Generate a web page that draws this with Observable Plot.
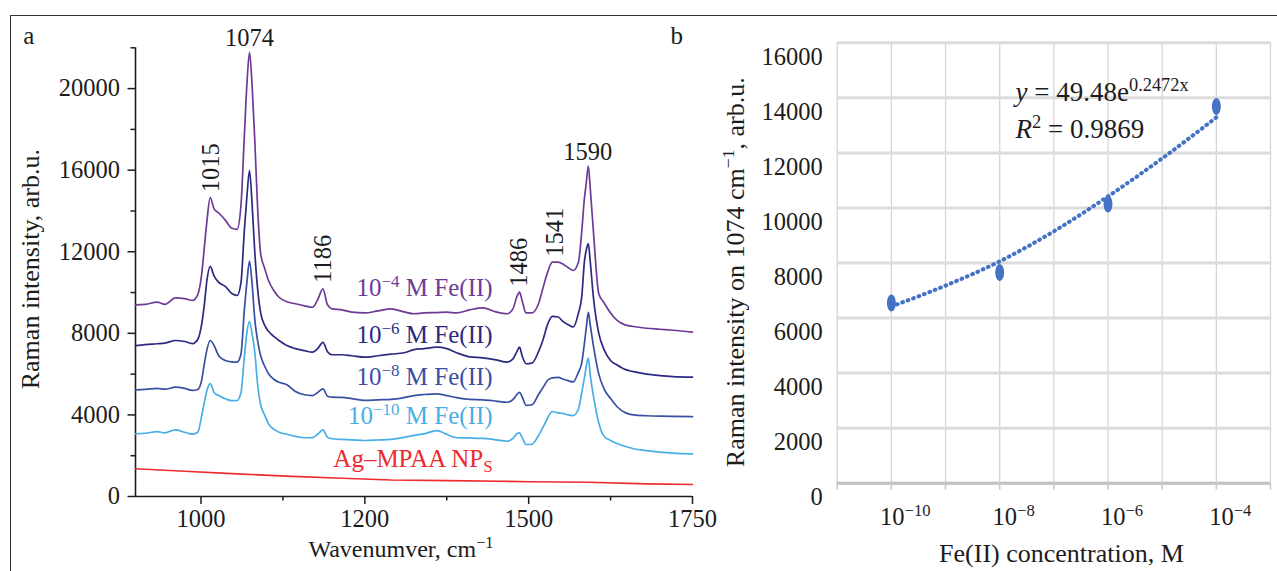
<!DOCTYPE html>
<html><head><meta charset="utf-8">
<script src="https://cdn.jsdelivr.net/npm/d3@7"></script>
<script src="https://cdn.jsdelivr.net/npm/@observablehq/plot@0.6"></script>
<style>
html,body{margin:0;padding:0;background:#fff;}
#wrap{position:relative;width:1277px;height:571px;overflow:hidden;background:#fff;}
#frame{position:absolute;left:10px;top:15px;right:-5px;bottom:-5px;border-top:1.5px solid #333;border-left:1.5px solid #333;}
</style></head><body><div id="wrap"><div id="frame"></div></div>
<script>
// ---------- Panel a data ----------
const wavenumber = [900,915,933,945,961,975,987,995,1001,1005,1009,1014,1020,1027,1037,1047,1055,1061,1066,1070,1074,1078,1082,1086,1091,1097,1103,1111,1119,1131,1144,1158,1170,1178,1186,1193,1200,1215,1230,1250,1270,1290,1310,1325,1340,1360,1375,1390,1410,1430,1450,1467,1476,1482,1486,1490,1496,1505,1515,1522,1529,1536,1545,1553,1560,1568,1576,1581,1585,1588,1591,1594,1599,1607,1615,1625,1635,1648,1660,1680,1700,1720,1750];
const intensityFe4 = [9400,9420,9530,9420,9740,9700,9610,9900,10900,12200,13500,14650,14100,13900,13550,13150,13100,14300,17600,20200,21780,20100,17500,14400,11900,11200,10590,10100,9770,9550,9450,9350,9280,9650,10180,9400,9200,9150,9040,9000,9100,9200,9050,8960,9000,9020,9040,9000,9150,9250,9050,8960,9200,9800,10020,9600,9000,9000,9450,10250,11000,11490,11490,11380,11230,11080,11500,13000,14600,15400,16200,15100,12900,9940,9500,9000,8630,8400,8335,8250,8200,8150,8055];
const intensityFe6 = [7400,7450,7490,7520,7650,7600,7500,7700,8450,9400,10600,11280,10800,10500,10300,9950,9855,10500,13000,14700,15980,14300,12000,10300,9000,8400,8100,7850,7650,7400,7250,7150,7080,7250,7560,7100,6950,6950,6900,6830,6900,6980,7050,7200,7250,7320,7250,7050,6850,6800,6700,6590,6750,7100,7320,6900,6510,6540,7100,7700,8450,8830,8800,8560,8430,8310,9000,9800,11500,12100,12400,11500,9700,8000,7200,6670,6450,6220,6120,6000,5930,5880,5850];
const intensityFe8 = [5230,5250,5300,5260,5360,5300,5200,5250,5700,6500,7200,7650,7400,6900,6670,6600,6585,7000,9100,10500,11540,10400,8700,7700,6900,6400,6020,5750,5600,5480,5150,4990,4950,5100,5280,4920,4870,4860,4800,4710,4740,4760,4850,4950,5000,5035,4950,4850,4760,4740,4680,4620,4750,5000,5110,4900,4470,4500,5000,5350,5700,5820,5840,5750,5680,5620,6100,6550,7500,8300,9030,8400,7350,6000,5280,4800,4400,4100,4000,3960,3940,3930,3920];
const intensityFe10 = [3074,3100,3180,3120,3270,3150,3060,3150,3950,4600,5200,5530,5100,4950,4790,4700,4707,5100,6800,8050,8580,7950,7100,5600,4500,4000,3564,3300,3150,3050,2950,2880,2890,3050,3270,2900,2830,2800,2780,2746,2770,2800,2900,3000,3074,3230,3050,2880,2870,2850,2780,2710,2850,3080,3120,2900,2550,2560,2990,3400,3850,4167,4100,4070,4000,3970,4300,5100,5800,6400,6780,5950,4900,3600,2950,2750,2600,2450,2339,2250,2180,2130,2094];
const agWavenumber = [900,975,1055,1130,1205,1290,1375,1457,1503,1591,1680,1750];
const agIntensity = [1360,1240,1110,1000,910,810,780,750,720,700,620,588];
const seriesLabels = ["10^{−4} M Fe(II)","10^{−6} M Fe(II)","10^{−8} M Fe(II)","10^{−10} M Fe(II)","Ag–MPAA NP_{S}"];
const peakWavenumbers = [1015,1074,1186,1486,1541,1590];
const verticalPeaks = [1015,1186,1486,1541];
const yTicksA = [0,4000,8000,12000,16000,20000];
const yMinorA = [2000,6000,10000,14000,18000,22000];
const xTicksA = [1000,1250,1500,1750];
const xTickLabelsA = ["1000","1200","1500","1750"];
const xMinorA = [1125,1375,1625];

// ---------- Panel b data ----------
const concentration = [1e-10,1e-8,1e-6,1e-4];
const intensity1074 = [6547,7655,10143,13686];
const trendConcentration = [1e-10,1e-9,1e-8,1e-7,1e-6,1e-5,1e-4];
const trendIntensity = [6420,7180,8060,9150,10420,11800,13290];
const yTicksB = [0,2000,4000,6000,8000,10000,12000,14000,16000];
const xDecadesB = [1e-11,1e-10,1e-9,1e-8,1e-7,1e-6,1e-5,1e-4,1e-3];
const xLabelledB = [1e-10,1e-8,1e-6,1e-4];
const xLabelsB = ["10^{−10}","10^{−8}","10^{−6}","10^{−4}"];
const equationLines = ["*y* = 49.48e^{0.2472x}","*R*^{2} = 0.9869"];

// ---------- styles ----------
const seriesColors = ["#6e3a97","#2c2a80","#3a4fa3","#48aee6","#ee2a2e"];
const trendColor = "#4472c4";
const svgStyle = "font-family:'Liberation Serif','Times New Roman',serif;font-size:24px;background:transparent;overflow:visible;max-width:none;position:absolute;left:0;top:0;color:#1c1c1c;";

// ---------- build tables ----------
const seriesValues = [intensityFe4, intensityFe6, intensityFe8, intensityFe10];
const lineData = seriesValues.map(vals => wavenumber.map((w, i) => ({w, v: vals[i]})));
const agData = agWavenumber.map((w, i) => ({w, v: agIntensity[i]}));
const allSeries = [...lineData, agData];
function interp(data, w) {
  for (let i = 1; i < data.length; i++) {
    if (data[i].w >= w) { const a = data[i-1], b = data[i]; return a.v + (b.v - a.v) * (w - a.w) / (b.w - a.w); }
  }
  return data[data.length-1].v;
}
const labelW = 1445;
const labelData = allSeries.map((data, i) => ({w: labelW, v: interp(data, 1410), label: seriesLabels[i], color: seriesColors[i]}));
const purple = lineData[0];
const peakData = peakWavenumbers.map(w => ({w, v: d3.max(purple.filter(d => Math.abs(d.w - w) <= 6), d => d.v), label: String(w)}));

const pointData = concentration.map((c, i) => ({c, v: intensity1074[i]}));
const trendData = trendConcentration.map((c, i) => ({c, v: trendIntensity[i]}));

const ellipse = {
  draw(ctx, size) {
    const r = Math.sqrt(size / Math.PI), rx = r * 0.52, ry = r, k = 0.5523;
    ctx.moveTo(rx, 0);
    ctx.bezierCurveTo(rx, k*ry, k*rx, ry, 0, ry);
    ctx.bezierCurveTo(-k*rx, ry, -rx, k*ry, -rx, 0);
    ctx.bezierCurveTo(-rx, -k*ry, -k*rx, -ry, 0, -ry);
    ctx.bezierCurveTo(k*rx, -ry, rx, -k*ry, rx, 0);
    ctx.closePath();
  }
};

const plotA = Plot.plot({
  width: 1277, height: 571,
  marginLeft: 135, marginRight: 585, marginTop: 47.3, marginBottom: 75,
  x: {domain: [900, 1750]},
  y: {domain: [0, 22000]},
  style: svgStyle,
  marks: [
    Plot.ruleX([900], {y1: 0, y2: 22000, strokeWidth: 1.6}),
    Plot.ruleY([0], {x1: 900, x2: 1750, strokeWidth: 1.6}),
    Plot.axisY({ticks: yMinorA, tickSize: 4.5, tickFormat: () => "", strokeWidth: 1.5, label: null}),
    Plot.axisY({ticks: yTicksA, tickSize: 7.5, tickPadding: 8, fontSize: 24.5, strokeWidth: 1.5, label: null, tickFormat: d => String(d)}),
    Plot.axisX({ticks: xMinorA, tickSize: 4.5, tickFormat: () => "", strokeWidth: 1.5, label: null}),
    Plot.axisX({ticks: xTicksA, tickSize: 8, tickPadding: 5, fontSize: 24.5, strokeWidth: 1.5, label: null, tickFormat: d => xTickLabelsA[xTicksA.indexOf(d)]}),
    Plot.line(agData, {x: "w", y: "v", stroke: seriesColors[4], strokeWidth: 1.6}),
    ...lineData.map((data, i) => Plot.line(data, {x: "w", y: "v", stroke: seriesColors[i], strokeWidth: 1.7, curve: "monotone-x"})).reverse(),
    ...labelData.map(d => Plot.text([d], {x: "w", y: "v", text: "label", fill: d.color, textAnchor: "end", lineAnchor: "bottom", dy: -14, fontSize: 25})),
    Plot.text(peakData.filter(d => !verticalPeaks.includes(d.w)), {x: "w", y: "v", text: "label", dy: -6, lineAnchor: "bottom", fontSize: 24.5}),
    Plot.text(peakData.filter(d => verticalPeaks.includes(d.w)), {x: "w", y: "v", text: "label", dy: -30, rotate: -90, fontSize: 24.5}),
    Plot.text(["Raman intensity, arb.u."], {frameAnchor: "left", textAnchor: "middle", lineAnchor: "middle", dx: -105.3, dy: -3, rotate: -90, fontSize: 26}),
    Plot.text(["Wavenumver, cm^{−1}"], {frameAnchor: "bottom", textAnchor: "middle", dx: -13, dy: 60, lineAnchor: "bottom", fontSize: 24}),
    Plot.text(["a"], {frameAnchor: "top-left", dx: -112.3, dy: -4.3, textAnchor: "start", lineAnchor: "bottom", fontSize: 25})
  ]
});

const plotB = Plot.plot({
  width: 1277, height: 571,
  marginLeft: 836.7, marginRight: 7, marginTop: 42.3, marginBottom: 88.3,
  x: {type: "log", domain: [1e-11, 1e-3]},
  y: {domain: [0, 16000]},
  style: svgStyle,
  marks: [
    Plot.gridX(xDecadesB, {stroke: "#d6d6d6", strokeOpacity: 1, strokeWidth: 1.3}),
    Plot.gridY(yTicksB, {stroke: "#dcdcdc", strokeOpacity: 1, strokeWidth: 3}),
    Plot.ruleY([0], {stroke: "#c2c2c2", strokeWidth: 3}),
    Plot.axisX({ticks: xDecadesB, tickSize: 7, tickFormat: () => "", stroke: "#c8c8c8", strokeWidth: 1.5, label: null}),
    Plot.axisX({ticks: xLabelledB, tickSize: 0, tickPadding: 24, dx: 14, fontSize: 24.5, label: null, tickFormat: d => xLabelsB[xLabelledB.indexOf(d)]}),
    Plot.axisY({ticks: yTicksB, tickSize: 0, tickPadding: 14.5, dy: 14, fontSize: 24.5, label: null, tickFormat: d => String(d)}),
    Plot.line(trendData, {x: "c", y: "v", stroke: trendColor, strokeWidth: 4, strokeDasharray: "0.8 5", strokeLinecap: "round", curve: "monotone-x"}),
    Plot.dot(pointData, {x: "c", y: "v", r: 8.5, symbol: ellipse, fill: trendColor}),
    Plot.text([equationLines[0]], {frameAnchor: "top-left", dx: 178.3, dy: 57.7, textAnchor: "start", lineAnchor: "bottom", fontSize: 27}),
    Plot.text([equationLines[1]], {frameAnchor: "top-left", dx: 178.3, dy: 94.7, textAnchor: "start", lineAnchor: "bottom", fontSize: 27}),
    Plot.text(["Raman intensity on 1074 cm^{−1}, arb.u."], {frameAnchor: "left", textAnchor: "middle", lineAnchor: "middle", dx: -102, dy: 9.2, rotate: -90, fontSize: 26}),
    Plot.text(["Fe(II) concentration, M"], {frameAnchor: "bottom", textAnchor: "middle", dx: 7.6, dy: 78.3, lineAnchor: "bottom", fontSize: 26}),
    Plot.text(["b"], {frameAnchor: "top-left", dx: -166.7, dy: 0.7, textAnchor: "start", lineAnchor: "bottom", fontSize: 25})
  ]
});

const wrap = document.getElementById("wrap");
wrap.append(plotA, plotB);

function richify(svg) {
  const NS = "http://www.w3.org/2000/svg";
  svg.querySelectorAll("text").forEach(t => {
    if (t.children.length) return;
    const s = t.textContent;
    if (!/[\^_*]/.test(s)) return;
    const fs = parseFloat(getComputedStyle(t).fontSize) || 24;
    const re = /\^\{([^}]*)\}|_\{([^}]*)\}|\*([^*]*)\*|([^^_*]+)/g;
    t.textContent = "";
    let shift = 0, m;
    while ((m = re.exec(s))) {
      const ts = document.createElementNS(NS, "tspan");
      let target = 0, size = null, italic = false, text;
      if (m[1] !== undefined) { text = m[1]; target = -0.36 * fs; size = 0.68 * fs; }
      else if (m[2] !== undefined) { text = m[2]; target = 0.2 * fs; size = 0.68 * fs; }
      else if (m[3] !== undefined) { text = m[3]; italic = true; }
      else text = m[4];
      const d = target - shift;
      if (d) ts.setAttribute("dy", d);
      shift = target;
      if (size) ts.setAttribute("font-size", size);
      if (italic) ts.setAttribute("font-style", "italic");
      ts.textContent = text;
      t.appendChild(ts);
    }
  });
}
richify(plotA);
richify(plotB);
</script></body></html>
